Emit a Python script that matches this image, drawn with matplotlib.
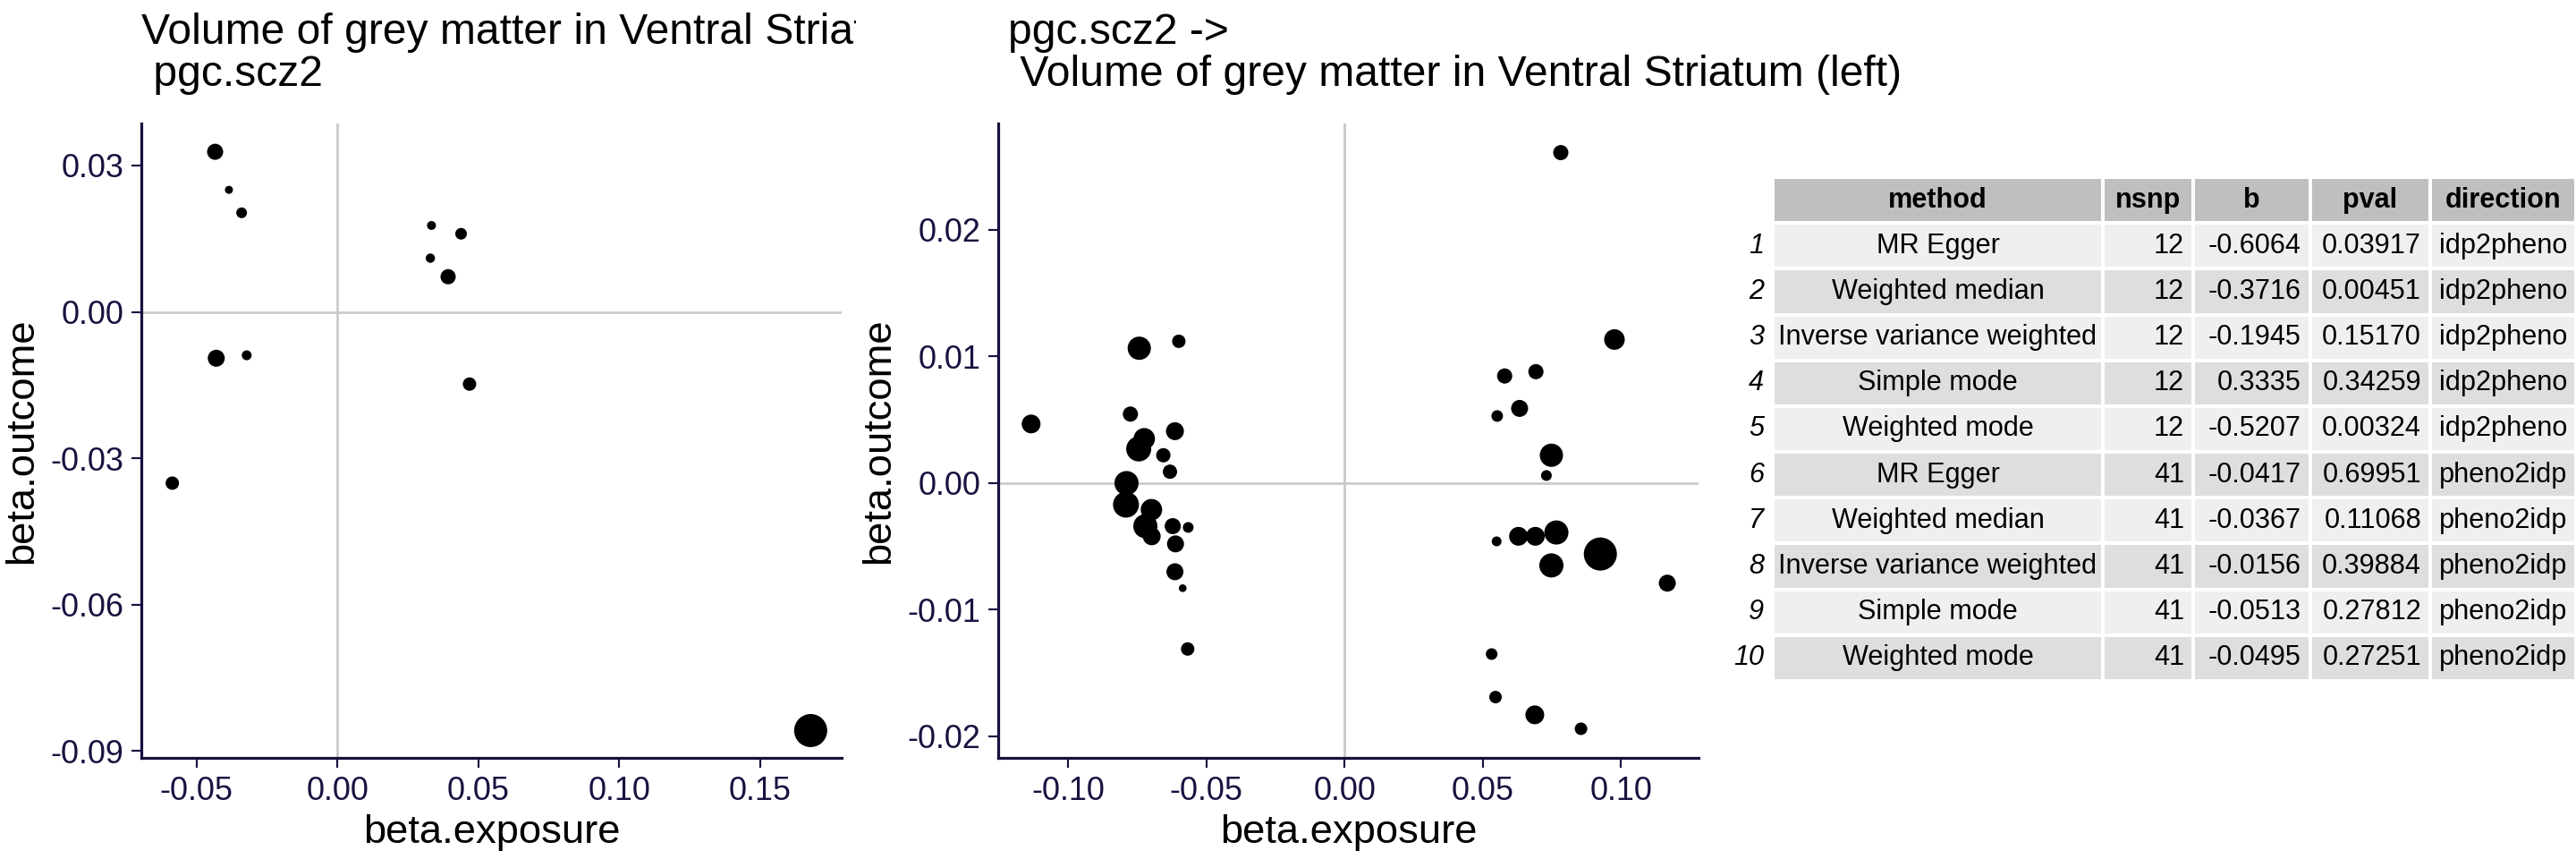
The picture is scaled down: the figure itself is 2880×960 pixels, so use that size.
import matplotlib

matplotlib.use("Agg")
import matplotlib.pyplot as plt
from matplotlib.transforms import Bbox

plt.rcParams["font.family"] = ["Liberation Sans", "DejaVu Sans"]

DPI = 192
INK = "#1a1040"
ZERO = "#c8c8c8"

# panel 1: idp -> pheno (x, y, marker radius in px)
left_x = [-0.0434, -0.0385, -0.0340, 0.0334, 0.0439, 0.0330, 0.0393, -0.0430, -0.0322, 0.0469, -0.0586, 0.1680]
left_y = [0.0328, 0.0250, 0.0203, 0.0177, 0.0160, 0.0110, 0.0072, -0.0095, -0.0089, -0.0148, -0.0351, -0.0858]
left_r = [9.0, 4.5, 6.0, 5.0, 6.5, 5.2, 8.5, 9.5, 5.5, 7.5, 7.5, 18.5]

# panel 2: pheno -> idp
right_x = [-0.1133, -0.0742, -0.0599, -0.0774, -0.0613, -0.0724, -0.0744, -0.0655, -0.0631, -0.0788,
           -0.0790, -0.0698, -0.0720, -0.0697, -0.0621, -0.0565, -0.0611, -0.0613, -0.0585, -0.0567,
           0.0782, 0.0976, 0.0579, 0.0692, 0.0552, 0.0633, 0.0748, 0.0730, 0.0550, 0.0629,
           0.0690, 0.0766, 0.0748, 0.0925, 0.1167, 0.0532, 0.0546, 0.0688, 0.0855]
right_y = [0.00467, 0.01065, 0.0112, 0.00545, 0.0041, 0.0035, 0.0027, 0.0022, 0.0009, 0.0000,
           -0.0017, -0.0021, -0.0034, -0.0042, -0.0034, -0.0035, -0.0048, -0.0070, -0.0083, -0.0131,
           0.0261, 0.01134, 0.00846, 0.0088, 0.0053, 0.0059, 0.0022, 0.0006, -0.0046, -0.0042,
           -0.0042, -0.0039, -0.0065, -0.0056, -0.0079, -0.0135, -0.0169, -0.0183, -0.0194]
right_r = [10.5, 13.0, 7.5, 8.5, 10.0, 12.0, 14.0, 8.0, 8.0, 13.5,
           14.5, 12.0, 13.5, 10.0, 9.0, 6.0, 9.5, 9.5, 4.3, 7.5,
           8.5, 11.5, 8.5, 8.5, 6.5, 9.5, 13.0, 6.0, 5.5, 10.5,
           10.5, 13.5, 13.5, 18.5, 9.5, 6.5, 7.0, 10.5, 7.0]

# results table
methods = ["MR Egger", "Weighted median", "Inverse variance weighted", "Simple mode", "Weighted mode"] * 2
nsnp = [12] * 5 + [41] * 5
b_vals = ["-0.6064", "-0.3716", "-0.1945", "0.3335", "-0.5207",
          "-0.0417", "-0.0367", "-0.0156", "-0.0513", "-0.0495"]
pvals = ["0.03917", "0.00451", "0.15170", "0.34259", "0.00324",
         "0.69951", "0.11068", "0.39884", "0.27812", "0.27251"]
directions = ["idp2pheno"] * 5 + ["pheno2idp"] * 5
columns = ["method", "nsnp", "b", "pval", "direction"]


def px_to_size(radii):
    return [(2 * r * 72 / DPI) ** 2 for r in radii]


def style_axis(axis, xticks, yticks, xlim, ylim):
    axis.axhline(0, color=ZERO, linewidth=1.0, zorder=0)
    axis.axvline(0, color=ZERO, linewidth=1.0, zorder=0)
    axis.set_xlim(*xlim)
    axis.set_ylim(*ylim)
    axis.set_xticks(xticks)
    axis.set_yticks(yticks)
    axis.set_xticklabels([f"{t:.2f}" for t in xticks])
    axis.set_yticklabels([f"{t:.2f}" for t in yticks])
    for side in ("top", "right"):
        axis.spines[side].set_visible(False)
    for side in ("left", "bottom"):
        axis.spines[side].set_color(INK)
        axis.spines[side].set_linewidth(1.2)
    axis.tick_params(colors=INK, labelsize=13.5, length=4, width=0.8)
    axis.set_xlabel("beta.exposure", fontsize=17, color="black", labelpad=3)
    axis.set_ylabel("beta.outcome", fontsize=17, color="black", labelpad=4)


fig = plt.figure(figsize=(2880 / DPI, 960 / DPI), dpi=DPI)

ax_bottom = 1 - 847 / 960
ax_height = (847 - 138) / 960
ax1 = fig.add_axes([158 / 2880, ax_bottom, 783 / 2880, ax_height])
ax1.scatter(left_x, left_y, s=px_to_size(left_r), color="black", linewidths=0)
style_axis(ax1, [-0.05, 0.0, 0.05, 0.10, 0.15], [0.03, 0.0, -0.03, -0.06, -0.09],
           (-0.0696, 0.179), (-0.0914, 0.0386))

ax2 = fig.add_axes([1116 / 2880, ax_bottom, 783 / 2880, ax_height])
ax2.scatter(right_x, right_y, s=px_to_size(right_r), color="black", linewidths=0)
style_axis(ax2, [-0.10, -0.05, 0.0, 0.05, 0.10], [0.02, 0.01, 0.0, -0.01, -0.02],
           (-0.1252, 0.128), (-0.0217, 0.0284))

title1 = fig.text(158 / 2880, 1 - 14 / 960, "Volume of grey matter in Ventral Striatum (left) ->\n pgc.scz2",
                  fontsize=18, va="top", ha="left", linespacing=1.05)
title1.set_clip_box(Bbox.from_extents(0, 0, 957, 960))
title1.set_clip_on(True)
fig.text(1127 / 2880, 1 - 14 / 960, "pgc.scz2 ->\n Volume of grey matter in Ventral Striatum (left)",
         fontsize=18, va="top", ha="left", linespacing=1.05)

# table drawn in figure pixel coordinates
tab = fig.add_axes([0, 0, 1, 1])
tab.set_xlim(0, 2880)
tab.set_ylim(960, 0)
tab.axis("off")
col_edges = [1982, 2351, 2452, 2583, 2717, 2880]
top, bottom = 198, 761
row_h = (bottom - top) / 11
rows = [[m, str(n), bv, pv, d] for m, n, bv, pv, d in zip(methods, nsnp, b_vals, pvals, directions)]
for r in range(11):
    y0 = top + r * row_h
    if r == 0:
        face = "#bfbfbf"
    else:
        face = "#efefef" if r % 2 == 1 else "#dedede"
    for c in range(5):
        x0, x1 = col_edges[c], col_edges[c + 1]
        tab.add_patch(plt.Rectangle((x0, y0), x1 - x0, row_h, facecolor=face,
                                    edgecolor="white", linewidth=1.5))
        if r == 0:
            tab.text((x0 + x1) / 2, y0 + row_h / 2, columns[c], ha="center", va="center",
                     fontsize=11.5, fontweight="bold")
        else:
            value = rows[r - 1][c]
            if c in (1, 2, 3):
                tab.text(x1 - 10, y0 + row_h / 2, value, ha="right", va="center", fontsize=11.5)
            else:
                tab.text((x0 + x1) / 2, y0 + row_h / 2, value, ha="center", va="center", fontsize=11.5)
    if r > 0:
        tab.text(col_edges[0] - 10, y0 + row_h / 2, str(r), ha="right", va="center",
                 fontsize=11.5, style="italic")

fig.savefig("out.png", dpi=DPI, facecolor="white")
